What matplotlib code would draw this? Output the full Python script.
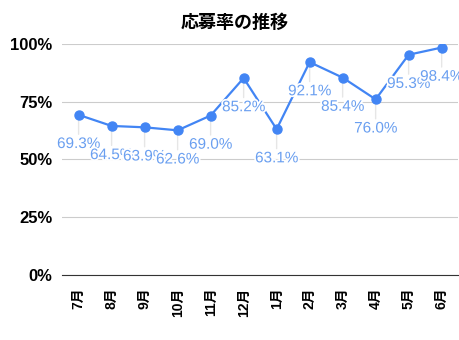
import matplotlib
matplotlib.use("Agg")
import matplotlib.pyplot as plt
import matplotlib.patheffects as pe

plt.rcParams['font.family'] = ['Liberation Sans', 'Noto Sans CJK JP', 'DejaVu Sans']

months = ['7月', '8月', '9月', '10月', '11月', '12月', '1月', '2月', '3月', '4月', '5月', '6月']
rates = [69.3, 64.5, 63.9, 62.6, 69.0, 85.2, 63.1, 92.1, 85.4, 76.0, 95.3, 98.4]
yticks = [0, 25, 50, 75, 100]

blue = '#4285F4'

fig = plt.figure(figsize=(4.6, 3.4), dpi=100)
ax = fig.add_axes([0.135, 0.191, 0.861, 0.680])

x = list(range(len(months)))
ax.plot(x, rates, color=blue, lw=1.6, marker='o', ms=6.5, zorder=3)

for i, v in zip(x, rates):
    ax.annotate('', xy=(i, v), xytext=(0, -14), textcoords='offset points',
                arrowprops=dict(arrowstyle='-', color='#e6e6e6', lw=1, shrinkA=0, shrinkB=0),
                zorder=1)
    ax.annotate(f'{v:.1f}%', xy=(i, v), xytext=(0, -21), textcoords='offset points',
                ha='center', va='center', fontsize=11, color='#6a9ff0',
                path_effects=[pe.withStroke(linewidth=2.5, foreground='white')],
                zorder=4, annotation_clip=False)

ax.set_xlim(-0.5, len(months) - 0.5)
ax.set_ylim(0, 100)
ax.set_yticks(yticks)
ax.set_yticklabels([f'{t}%' for t in yticks], fontsize=12, fontweight='bold')
ax.set_xticks(x)
ax.set_xticklabels(months, rotation=90, fontsize=10, fontweight='bold')
ax.tick_params(axis='y', length=0, pad=7)
ax.tick_params(axis='x', length=0, pad=9)
ax.grid(axis='y', color='#cccccc', lw=0.8)
ax.set_axisbelow(True)
for s in ['top', 'right', 'left']:
    ax.spines[s].set_visible(False)
ax.spines['bottom'].set_color('#333333')

fig.text(0.51, 0.935, '応募率の推移', ha='center', va='center', fontsize=13, fontweight='bold',
         family=['Noto Sans CJK JP'])

fig.savefig('out.png', dpi=100)
